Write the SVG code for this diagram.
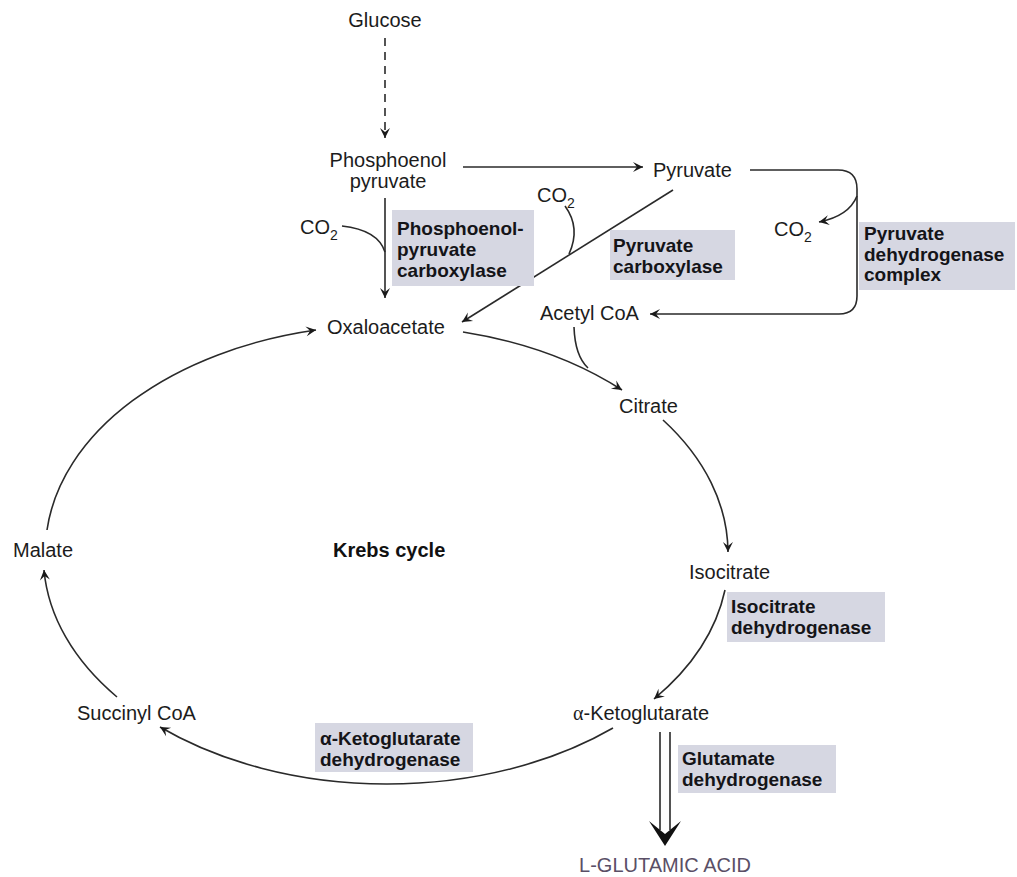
<svg xmlns="http://www.w3.org/2000/svg" width="1017" height="877" viewBox="0 0 1017 877">
<style>
.t{font-family:"Liberation Sans",Arial,sans-serif;font-size:20px;fill:#1c1c1c}
.b{font-family:"Liberation Sans",Arial,sans-serif;font-size:19px;font-weight:bold;fill:#141418}
.sub{font-size:14px}
.ln{fill:none;stroke:#2a2a2a;stroke-width:1.6}
.box{fill:#d6d7e2}
.greek{font-family:"Liberation Serif","Times New Roman",serif}
</style>
<defs>
<marker id="ah" markerUnits="userSpaceOnUse" markerWidth="14" markerHeight="14" viewBox="-11 -7 13 14" refX="0" refY="0" orient="auto">
<path d="M0,0 L-10,-5 L-6,0 L-10,5 Z" fill="#1a1a1a"/>
</marker>
</defs>
<rect width="1017" height="877" fill="#ffffff"/>

<g id="connectors">
<path class="ln" d="M385 38 L385 138" stroke-dasharray="8 6" marker-end="url(#ah)"/>
<path class="ln" d="M463 167 L643 167" marker-end="url(#ah)"/>
<path class="ln" d="M385 198 L385 298" marker-end="url(#ah)"/>
<path class="ln" d="M342 226 Q378 230 385 252"/>
<path class="ln" d="M673 190 L462 322" marker-end="url(#ah)"/>
<path class="ln" d="M565 206 Q581 228 569 254"/>
<path class="ln" d="M750 170 L838 170 Q857 170 857 189 L857 296 Q857 314 839 314 L650 314" marker-end="url(#ah)"/>
<path class="ln" d="M857 196 Q849 216 819 222" marker-end="url(#ah)"/>
<path class="ln" d="M47 530 A343 227 0 0 1 316 330" marker-end="url(#ah)"/>
<path class="ln" d="M463 332 A343 227 0 0 1 622 390" marker-end="url(#ah)"/>
<path class="ln" d="M574 327 Q575 356 588 368"/>
<path class="ln" d="M663 420 A343 227 0 0 1 728 552" marker-end="url(#ah)"/>
<path class="ln" d="M725 590 A343 227 0 0 1 654 699" marker-end="url(#ah)"/>
<path class="ln" d="M613 728 A343 227 0 0 1 160 727" marker-end="url(#ah)"/>
<path class="ln" d="M117 697 A343 227 0 0 1 44 570" marker-end="url(#ah)"/>
<path class="ln" d="M660 732 L660 830 M670 732 L670 830"/>
<polygon points="649,821 665,846 681,821 665,834" fill="#111"/>
</g>

<g id="glucose"><text class="t" x="385" y="27" text-anchor="middle">Glucose</text></g>
<g id="pep"><text class="t" x="388" y="167" text-anchor="middle">Phosphoenol</text><text class="t" x="388" y="188" text-anchor="middle">pyruvate</text></g>
<g id="pyruvate"><text class="t" x="653" y="177">Pyruvate</text></g>
<g id="co2-a"><text class="t" x="300" y="234">CO<tspan class="sub" dy="6">2</tspan></text></g>
<g id="co2-b"><text class="t" x="537" y="202">CO<tspan class="sub" dy="6">2</tspan></text></g>
<g id="co2-c"><text class="t" x="774" y="236">CO<tspan class="sub" dy="6">2</tspan></text></g>

<g id="pep-carboxylase">
<rect class="box" x="392" y="210" width="142" height="76" fill="#dadadf"/>
<text class="b" x="397" y="235">Phosphoenol-</text><text class="b" x="397" y="256">pyruvate</text><text class="b" x="397" y="277">carboxylase</text>
</g>
<g id="pyruvate-carboxylase">
<rect class="box" x="610" y="230" width="125" height="50" fill="#d4d3e3"/>
<text class="b" x="613" y="252">Pyruvate</text><text class="b" x="613" y="273">carboxylase</text>
</g>
<g id="pdh">
<rect class="box" x="859" y="222" width="156" height="68" fill="#ccd5e6"/>
<text class="b" x="864" y="240">Pyruvate</text><text class="b" x="864" y="261">dehydrogenase</text><text class="b" x="864" y="281">complex</text>
</g>

<g id="acetyl-coa"><text class="t" x="540" y="320">Acetyl CoA</text></g>
<g id="oxaloacetate"><text class="t" x="327" y="334">Oxaloacetate</text></g>
<g id="citrate"><text class="t" x="619" y="413">Citrate</text></g>
<g id="isocitrate"><text class="t" x="689" y="579">Isocitrate</text></g>
<g id="isocitrate-dh">
<rect class="box" x="727" y="592" width="158" height="50" fill="#c7cde0"/>
<text class="b" x="731" y="613">Isocitrate</text><text class="b" x="731" y="634">dehydrogenase</text>
</g>
<g id="akg"><text class="t" x="573" y="720"><tspan class="greek">α</tspan>-Ketoglutarate</text></g>
<g id="glutamate-dh">
<rect class="box" x="678" y="745" width="158" height="48" fill="#d0d1e1"/>
<text class="b" x="682" y="765">Glutamate</text><text class="b" x="682" y="786">dehydrogenase</text>
</g>
<g id="glutamic-acid"><text class="t" x="665" y="872" text-anchor="middle" style="fill:#5a4f66">L-GLUTAMIC ACID</text></g>
<g id="akg-dh">
<rect class="box" x="315" y="723" width="158" height="49" fill="#d5d5da"/>
<text class="b" x="320" y="745">α-Ketoglutarate</text><text class="b" x="320" y="766">dehydrogenase</text>
</g>
<g id="succinyl-coa"><text class="t" x="77" y="720">Succinyl CoA</text></g>
<g id="malate"><text class="t" x="13" y="557">Malate</text></g>
<g id="krebs"><text class="t" x="333" y="557" style="font-weight:bold;fill:#111">Krebs cycle</text></g>
</svg>
